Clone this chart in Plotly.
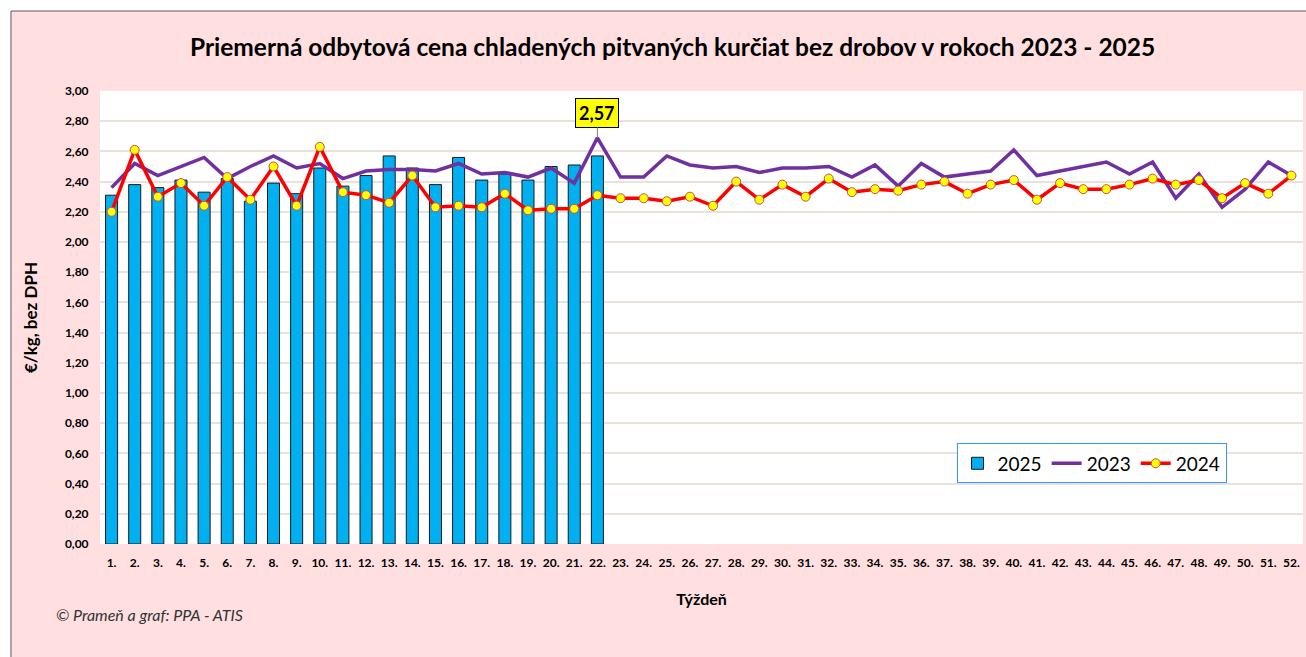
import plotly.graph_objects as go

weeks = list(range(1, 53))
week_labels = [f"{w}." for w in weeks]

price_2025 = [2.31, 2.38, 2.36, 2.41, 2.33, 2.42, 2.27, 2.39, 2.32, 2.49,
              2.37, 2.44, 2.57, 2.49, 2.38, 2.56, 2.41, 2.45, 2.41, 2.50,
              2.51, 2.57]

price_2023 = [2.36, 2.52, 2.44, 2.50, 2.56, 2.42, 2.50, 2.57, 2.49, 2.52,
              2.42, 2.47, 2.48, 2.48, 2.47, 2.52, 2.45, 2.46, 2.43, 2.49,
              2.39, 2.69, 2.43, 2.43, 2.57, 2.51, 2.49, 2.50, 2.46, 2.49,
              2.49, 2.50, 2.43, 2.51, 2.37, 2.52, 2.43, 2.45, 2.47, 2.61,
              2.44, 2.47, 2.50, 2.53, 2.45, 2.53, 2.29, 2.45, 2.23, 2.35,
              2.53, 2.44]

price_2024 = [2.20, 2.61, 2.30, 2.39, 2.24, 2.43, 2.28, 2.50, 2.24, 2.63,
              2.33, 2.31, 2.26, 2.44, 2.23, 2.24, 2.23, 2.32, 2.21, 2.22,
              2.22, 2.31, 2.29, 2.29, 2.27, 2.30, 2.24, 2.40, 2.28, 2.38,
              2.30, 2.42, 2.33, 2.35, 2.34, 2.38, 2.40, 2.32, 2.38, 2.41,
              2.28, 2.39, 2.35, 2.35, 2.38, 2.42, 2.38, 2.41, 2.29, 2.39,
              2.32, 2.44]

FONT = "Lato, Liberation Sans, Arial, sans-serif"
BG = "#FFDFDF"

fig = go.Figure()
fig.add_trace(go.Bar(
    x=weeks[:len(price_2025)], y=price_2025, name="2025",
    marker=dict(color="#00B0F0", line=dict(color="#1a1a1a", width=1)),
))
fig.add_trace(go.Scatter(
    x=weeks, y=price_2023, name="2023", mode="lines",
    line=dict(color="#7030A0", width=3.5),
))
fig.add_trace(go.Scatter(
    x=weeks, y=price_2024, name="2024", mode="lines+markers",
    line=dict(color="#FF0000", width=3.5),
    marker=dict(color="#FFFF00", size=9, line=dict(color="#C0504D", width=1)),
))

last_i = len(price_2025) - 1
fig.add_annotation(
    x=weeks[last_i], y=price_2023[last_i], xref="x", yref="y",
    ax=weeks[last_i], ay=2.855, axref="x", ayref="y",
    text=f"<b>{price_2025[last_i]:.2f}</b>".replace(".", ","),
    showarrow=True, arrowhead=0, arrowwidth=1, arrowcolor="#7f7f7f",
    font=dict(family=FONT, size=18, color="#000000"),
    bgcolor="#FFFF00", bordercolor="#000000", borderwidth=1, borderpad=3,
)

fig.update_layout(
    width=1306, height=657,
    paper_bgcolor=BG, plot_bgcolor="#FFFFFF",
    margin=dict(l=100, r=3, t=91, b=113),
    separators=", ",
    barmode="overlay", bargap=0.48,
    title=dict(text="<b>Priemerná odbytová cena chladených pitvaných kurčiat bez drobov v rokoch 2023 - 2025</b>",
               x=0.515, xanchor="center", y=0.928, yanchor="middle",
               font=dict(family=FONT, size=24.5, color="#000000")),
    font=dict(family=FONT, color="#000000"),
    showlegend=True,
    legend=dict(orientation="h", x=0.712, xanchor="left", y=0.222, yanchor="top",
                bgcolor="#FFFFFF", bordercolor="#3399FF", borderwidth=1,
                font=dict(family=FONT, size=19, color="#000000"),
                tracegroupgap=0),
    xaxis=dict(range=[0.5, 52.5], tickmode="array", tickvals=weeks,
               ticktext=[f"<b>{t}</b>" for t in week_labels],
               tickfont=dict(family=FONT, size=12, color="#000000"),
               showgrid=False, zeroline=False, showline=False, automargin=False,
               ticks="outside", ticklen=8, tickcolor="rgba(0,0,0,0)",
               title=dict(text="<b>Týždeň</b>", font=dict(family=FONT, size=16), standoff=24)),
    yaxis=dict(range=[0, 3], automargin=False,
               tickmode="array",
               tickvals=[round(i * 0.2, 2) for i in range(16)],
               ticktext=[f"<b>{i * 0.2:.2f}</b>".replace(".", ",") for i in range(16)],
               tickfont=dict(family=FONT, size=12, color="#000000"),
               showgrid=True, gridcolor="#E8E2DA", gridwidth=2, zeroline=False,
               ticks="outside", ticklen=8, tickcolor="rgba(0,0,0,0)",
               title=dict(text="<b>€/kg, bez DPH</b>", font=dict(family=FONT, size=17), standoff=22)),
)

fig.add_annotation(text="<i>© Prameň a graf: PPA - ATIS</i>", xref="paper", yref="paper",
                   x=-0.0385, y=-0.155, xanchor="left", yanchor="middle", showarrow=False,
                   font=dict(family=FONT, size=16, color="#333333"))

# white strips outside the chart frame (top and left) and the frame line
fig.add_shape(type="rect", xref="paper", yref="paper", x0=-0.09, x1=-0.074, y0=-0.26, y1=1.21,
              line=dict(width=0), fillcolor="#FFFFFF", layer="above")
fig.add_shape(type="rect", xref="paper", yref="paper", x0=-0.09, x1=1.01, y0=1.1766, y1=1.21,
              line=dict(width=0), fillcolor="#FFFFFF", layer="above")
fig.add_shape(type="rect", xref="paper", yref="paper", x0=-0.074, x1=1.01, y0=-0.26, y1=1.1766,
              line=dict(color="#5a5a5a", width=1), fillcolor="rgba(0,0,0,0)", layer="above")

fig.write_html("out.html", config={"displayModeBar": False},
               post_script="document.body.style.margin='0';document.body.style.overflow='hidden';")
